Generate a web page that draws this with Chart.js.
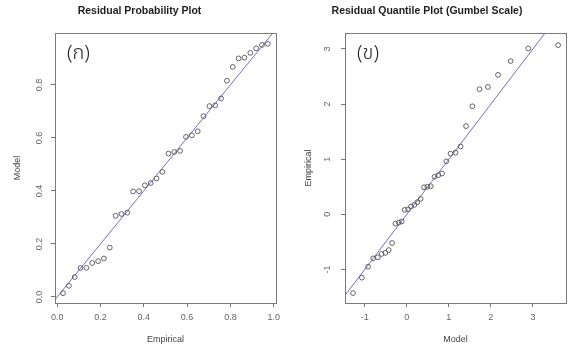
<!DOCTYPE html>
<html>
<head>
<meta charset="utf-8">
<script src="https://cdn.jsdelivr.net/npm/chart.js@4.4.1/dist/chart.umd.min.js"></script>
<style>
  html, body { margin: 0; padding: 0; background: #fff; }
  #wrap { position: relative; width: 571px; height: 346px; }
  #probBox { position: absolute; left: 0; top: 0; width: 285px; height: 346px; }
  #quantBox { position: absolute; left: 285px; top: 0; width: 286px; height: 346px; }
</style>
</head>
<body>
<div id="wrap">
  <div id="probBox"><canvas id="probChart"></canvas></div>
  <div id="quantBox"><canvas id="quantChart"></canvas></div>
</div>
<script>
// (ก) residual probability plot
var probEmpirical = [0.027, 0.054, 0.081, 0.108, 0.135, 0.162, 0.189, 0.216, 0.243, 0.270, 0.297, 0.324,
                     0.351, 0.378, 0.405, 0.432, 0.459, 0.486, 0.514, 0.541, 0.568, 0.595, 0.622, 0.649,
                     0.676, 0.703, 0.730, 0.757, 0.784, 0.811, 0.838, 0.865, 0.892, 0.919, 0.946, 0.973];
var probModel = [0.014, 0.042, 0.075, 0.109, 0.110, 0.128, 0.135, 0.145, 0.186, 0.306, 0.313, 0.318,
                 0.398, 0.399, 0.421, 0.430, 0.447, 0.472, 0.541, 0.547, 0.551, 0.604, 0.610, 0.625,
                 0.682, 0.720, 0.723, 0.749, 0.816, 0.868, 0.900, 0.903, 0.921, 0.938, 0.951, 0.955];
var probXTicks = [0, 0.2, 0.4, 0.6, 0.8, 1.0];
var probYTicks = [0, 0.2, 0.4, 0.6, 0.8];

// (ข) residual quantile plot, gumbel scale
var quantModel = [-1.28, -1.07, -0.92, -0.80, -0.69, -0.60, -0.51, -0.43, -0.35, -0.27, -0.19, -0.12,
                  -0.05, 0.03, 0.10, 0.18, 0.25, 0.33, 0.41, 0.49, 0.57, 0.66, 0.75, 0.84,
                  0.94, 1.04, 1.16, 1.28, 1.41, 1.56, 1.73, 1.93, 2.17, 2.47, 2.89, 3.60];
var quantEmpirical = [-1.43, -1.15, -0.95, -0.80, -0.78, -0.72, -0.70, -0.65, -0.52, -0.17, -0.15, -0.13,
                      0.08, 0.09, 0.14, 0.17, 0.22, 0.28, 0.49, 0.50, 0.51, 0.68, 0.71, 0.74,
                      0.96, 1.10, 1.12, 1.23, 1.60, 1.96, 2.27, 2.31, 2.53, 2.78, 3.01, 3.07];
var quantXTicks = [-1, 0, 1, 2, 3];
var quantYTicks = [-1, 0, 1, 2, 3];

// 1:1 reference line ends
var lineEnds = [-2, 5];

var FONT = "'Liberation Sans', Arial, sans-serif";

function toPoints(xs, ys) {
    return xs.map(function (x, i) { return { x: x, y: ys[i] }; });
}

// box round the plot region + the panel tag
var frame = {
    id: 'frame',
    afterDraw: function (chart, args, opts) {
        var a = chart.chartArea;
        var ctx = chart.ctx;
        ctx.save();
        ctx.strokeStyle = '#7a7a7a';
        ctx.lineWidth = 1;
        ctx.strokeRect(Math.round(a.left) + 0.5, Math.round(a.top) + 0.5,
                       Math.round(a.right - a.left), Math.round(a.bottom - a.top));
        ctx.fillStyle = '#222';
        ctx.font = "300 20px 'Noto Sans Thai', 'Noto Sans', 'DejaVu Sans', sans-serif";
        ctx.textBaseline = 'middle';
        ctx.fillText(opts.tag, a.left + 12, a.top + 22);
        ctx.restore();
    }
};

function makePanel(canvasId, o) {
    return new Chart(document.getElementById(canvasId), {
        type: 'scatter',
        data: {
            datasets: [
                {
                    data: toPoints(o.xs, o.ys),
                    pointStyle: 'circle',
                    pointRadius: 2.4,
                    pointBorderWidth: 0.9,
                    pointBorderColor: '#555',
                    pointBackgroundColor: 'transparent'
                },
                {
                    type: 'line',
                    data: toPoints(lineEnds, lineEnds),
                    borderColor: '#6f6fd6',
                    borderWidth: 1,
                    pointRadius: 0,
                    fill: false
                }
            ]
        },
        options: {
            responsive: true,
            maintainAspectRatio: false,
            animation: false,
            events: [],
            layout: { padding: { left: 0, right: o.padRight, top: 0, bottom: 0 } },
            plugins: {
                legend: { display: false },
                tooltip: { enabled: false },
                title: {
                    display: true,
                    text: o.title,
                    color: '#1e1e1e',
                    font: { family: FONT, size: 10.5, weight: 'bold' },
                    padding: { top: 5, bottom: 15.4 }
                },
                frame: { tag: o.tag }
            },
            scales: {
                x: {
                    type: 'linear',
                    min: o.xMin,
                    max: o.xMax,
                    afterBuildTicks: function (s) { s.ticks = o.xTicks.map(function (v) { return { value: v }; }); },
                    afterFit: function (s) { s.height = 43; },
                    border: { display: false },
                    grid: { drawOnChartArea: false, drawTicks: true, tickLength: 4, color: '#777' },
                    ticks: {
                        color: '#666',
                        padding: 5,
                        maxRotation: 0,
                        font: { family: FONT, size: 9 },
                        callback: function (v) { return o.fmt(v); }
                    },
                    title: {
                        display: true,
                        text: o.xTitle,
                        color: '#444',
                        font: { family: FONT, size: 9 },
                        padding: { top: 1, bottom: 1 }
                    }
                },
                y: {
                    type: 'linear',
                    min: o.yMin,
                    max: o.yMax,
                    afterBuildTicks: function (s) { s.ticks = o.yTicks.map(function (v) { return { value: v }; }); },
                    afterFit: function (s) { s.width = o.yWidth; },
                    border: { display: false },
                    grid: { drawOnChartArea: false, drawTicks: true, tickLength: 4, color: '#777' },
                    ticks: {
                        color: '#666',
                        padding: o.yTickPad,
                        minRotation: 90,
                        maxRotation: 90,
                        crossAlign: 'center',
                        font: { family: FONT, size: 9 },
                        callback: function (v) { return o.fmt(v); }
                    },
                    title: {
                        display: true,
                        text: o.yTitle,
                        color: '#444',
                        font: { family: FONT, size: 9 },
                        padding: { top: o.yTitlePad, bottom: o.yTitlePad }
                    }
                }
            }
        },
        plugins: [frame]
    });
}

makePanel('probChart', {
    xs: probEmpirical, ys: probModel,
    xTicks: probXTicks, yTicks: probYTicks,
    xMin: -0.01, xMax: 1.01, yMin: -0.023, yMax: 0.996,
    title: 'Residual Probability Plot',
    xTitle: 'Empirical', yTitle: 'Model',
    tag: '(ก)',
    padRight: 6, yWidth: 55, yTickPad: 5.5, yTitlePad: 12.5,
    fmt: function (v) { return v.toFixed(1); }
});

makePanel('quantChart', {
    xs: quantModel, ys: quantEmpirical,
    xTicks: quantXTicks, yTicks: quantYTicks,
    xMin: -1.47, xMax: 3.79, yMin: -1.61, yMax: 3.29,
    title: 'Residual Quantile Plot (Gumbel Scale)',
    xTitle: 'Model', yTitle: 'Empirical',
    tag: '(ข)',
    padRight: 2, yWidth: 60, yTickPad: 9, yTitlePad: 18.5,
    fmt: function (v) { return String(v); }
});
</script>
</body>
</html>
